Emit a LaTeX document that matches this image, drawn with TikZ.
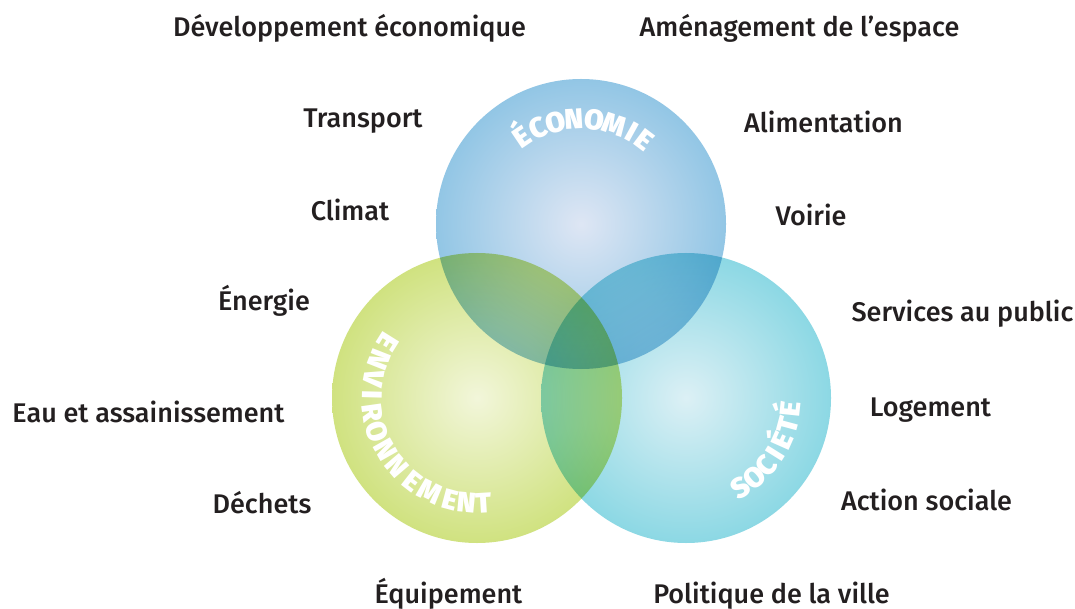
\documentclass[tikz,border=0pt]{standalone}
\usepackage{fontspec}
\usetikzlibrary{calc}
\IfFontExistsTF{Fira Sans Medium}
  {\newfontfamily\labfont{Fira Sans Medium}}
  {\newfontfamily\labfontA{Fira Sans}\newcommand\labfont{\labfontA\bfseries}}
\IfFontExistsTF{Fira Sans Black}
  {\newfontfamily\circfont{Fira Sans Black}}
  {\IfFontExistsTF{Fira Sans Heavy}
    {\newfontfamily\circfont{Fira Sans Heavy}}
    {\newfontfamily\circfontA{Fira Sans}[BoldFeatures={FakeBold=2}]\newcommand\circfont{\circfontA\bfseries}}}
\definecolor{ecoin}{RGB}{222,230,244}
\definecolor{ecoout}{RGB}{146,198,229}
\definecolor{envin}{RGB}{242,246,218}
\definecolor{envout}{RGB}{208,226,128}
\definecolor{socin}{RGB}{220,240,245}
\definecolor{socout}{RGB}{140,216,228}
\definecolor{txt}{RGB}{35,31,32}
\tikzset{
  lab/.style={anchor=base, inner sep=0pt, text=txt, font=\labfont\fontsize{27}{30}\selectfont},
  circtxt/.style={anchor=base, inner sep=0pt, text=white, font=\circfont\fontsize{28.5}{30}\selectfont}
}
\begin{document}
\begin{tikzpicture}[x=1pt,y=-1pt]
\useasboundingbox (0,0) rectangle (1075,609);
\fill[white] (0,0) rectangle (1075,609);
\coordinate (ceco) at (581,224);
\coordinate (cenv) at (477,398);
\coordinate (csoc) at (686,398);
\begin{scope}[blend mode=multiply]
  \shade[inner color=ecoin, outer color=ecoout] (ceco) circle[radius=145];
  \shade[inner color=envin, outer color=envout] (cenv) circle[radius=145];
  \shade[inner color=socin, outer color=socout] (csoc) circle[radius=145];
\end{scope}
% curved circle titles
\foreach \a/\l [count=\i] in {124/É,114/C,104/O,93.5/N,82.5/O,71.5/M,61/I,53/E}
  \node[circtxt, rotate=\a-90] (eco\i) at ($(ceco)+({95*cos(\a)},{-95*sin(\a)})$) {\l};
\foreach \a/\l [count=\i] in {148/E,158.5/N,169.5/V,178.5/I,188/R,198.5/O,209.5/N,220.5/N,232/E,243.5/M,255/E,264.5/N,273.5/T}
  \node[circtxt, rotate=\a+90] (env\i) at ($(cenv)+({115*cos(\a)},{-115*sin(\a)})$) {\l};
\foreach \a/\l [count=\i] in {-59/S,-49.5/O,-40/C,-32/I,-24/É,-15/T,-6/É}
  \node[circtxt, rotate=\a+90] (soc\i) at ($(csoc)+({115*cos(\a)},{-115*sin(\a)})$) {\l};
% labels
\node[lab] (l1) at (349.5,37) {Développement économique};
\node[lab] (l2) at (799.5,37) {Aménagement de l’espace};
\node[lab] (l3) at (363,128) {Transport};
\node[lab] (l4) at (823.5,133) {Alimentation};
\node[lab] (l5) at (350,221) {Climat};
\node[lab] (l6) at (811,226) {Voirie};
\node[lab] (l7) at (264,311) {Énergie};
\node[lab] (l8) at (962.5,321) {Services au public};
\node[lab] (l9) at (148.5,422) {Eau et assainissement};
\node[lab] (l10) at (930.5,416) {Logement};
\node[lab] (l11) at (262,513) {Déchets};
\node[lab] (l12) at (926.5,510) {Action sociale};
\node[lab] (l13) at (448.5,603) {Équipement};
\node[lab] (l14) at (771.5,603) {Politique de la ville};
\end{tikzpicture}
\end{document}
